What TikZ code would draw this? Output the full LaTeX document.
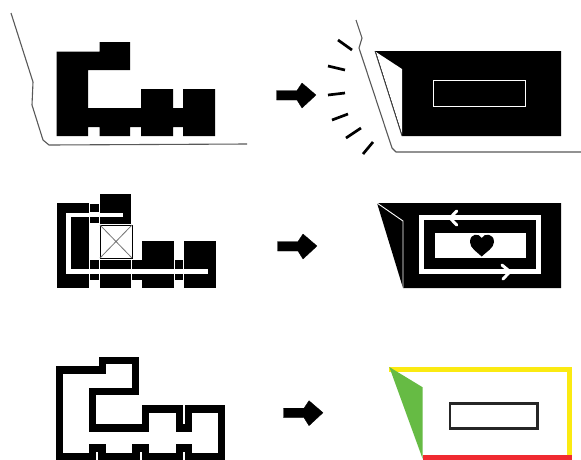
\documentclass[tikz,border=0pt]{standalone}
\usepackage{tikz}
\usepackage{xcolor}
\definecolor{leafgreen}{HTML}{66BB44}
\definecolor{signyellow}{HTML}{FBEA11}
\definecolor{signred}{HTML}{F02A30}
\begin{document}
\begin{tikzpicture}[x=1pt,y=-1pt,
  siteline/.style={draw=black!65,line width=1.1pt,line join=round},
  ray/.style={line width=2.7pt},
  corridor/.style={draw=white,line width=4.6pt},
  outline/.style={draw=black,line width=7.3pt,line join=miter},
  blockarrow/.style={fill=black,draw=black,line width=.3pt,line join=round},
  chevron/.style={draw=white,line width=3pt,line join=round,line cap=round}]
\clip (0,0) rectangle (581,459);
\fill[white] (0,0) rectangle (581,459);
% top row
\draw[siteline] (11,13) -- (33,82) -- (32,105) -- (43,140) -- (49,145) -- (247,144);
\fill (56.5,51.5) -- (99.5,51.5) -- (99.5,42) -- (130,42) -- (130,70) -- (88,70) -- (88,108) -- (141,108) -- (141,89) -- (173,89) -- (173,108) -- (183,108) -- (183,89) -- (215,89) -- (215,136) -- (183,136) -- (183,127) -- (173,127) -- (173,136) -- (141,136) -- (141,127) -- (130,127) -- (130,136) -- (99.5,136) -- (99.5,127) -- (88,127) -- (88,136) -- (56.5,136) -- cycle;
\foreach \ax/\ay/\bx/\by in {338/40/352/50,328/66/345/70,328/95/345/93,332/120/348/114,346/138/361/128,363/154/373/142}
  \draw[ray] (\ax,\ay) -- (\bx,\by);
\draw[siteline] (356,20) -- (362,38) -- (359,48) -- (392,148) -- (396,152) -- (581,152);
\fill (375,51) -- (561,51) -- (561,136) -- (402,136) -- cycle;
\fill[white] (376,52) -- (402,69) -- (402,134) -- cycle;
\draw[black!75,line width=.8pt] (375,51) -- (402,136);
\draw[white,line width=1pt] (433.5,80) rectangle (525.5,106);
% middle row
\foreach \xa/\ya/\xb/\yb in {57/203/89/288,100/194/131/224,100/274/131/288,100/260/131/269,142/241/174/288,184/241/216/288,90/204/99/212,90/217/99/223,90/260/99/269,90/274/99/280,132/260/142/269,132/274/142/280,175/260/183/269,175/274/183/280}
  \fill (\xa,\ya) rectangle (\xb,\yb);
\draw[corridor] (123,215) -- (68.3,215) -- (68.3,271.7) -- (208,271.7);
\draw[black,line width=1pt] (100,225) rectangle (132,258);
\draw[black!55,line width=.8pt] (100,225) -- (132,258) (100,258) -- (132,225);
\fill (377,203) -- (561,203) -- (561,288) -- (403,288) -- cycle;
\draw[white,line width=.9pt] (377,203) -- (403,221) -- (403,288);
\draw[corridor] (421.5,217.3) rectangle (538.5,271.7);
\fill[white] (435.3,233.3) rectangle (526,258.3);
\fill (481.7,238) .. controls (484,233) and (494,233) .. (494,242) .. controls (494,248) and (486,252) .. (481.7,256.5) .. controls (477,252) and (470,248) .. (470,242) .. controls (470,233) and (479,233) .. (481.7,238) -- cycle;
\draw[chevron] (456.7,211) -- (450,218) -- (456.7,225);
\draw[chevron] (502,265) -- (510,271.7) -- (503,279);
% bottom row
\draw[outline] (59.7,370) -- (102.7,370) -- (102.7,360.7) -- (135.7,360.7) -- (135.7,391.7) -- (92.3,391.7) -- (92.3,428) -- (145.7,428) -- (145.7,409) -- (179.3,409) -- (179.3,428) -- (188.3,428) -- (188.3,409) -- (221.7,409) -- (221.7,457) -- (188.3,457) -- (188.3,448) -- (179.3,448) -- (179.3,457) -- (145.7,457) -- (145.7,448) -- (136,448) -- (136,457) -- (102,457) -- (102,448) -- (92.3,448) -- (92.3,457) -- (59.7,457) -- cycle;
\draw[signred,line width=5pt] (422.7,457.3) -- (572,457.3);
\draw[signyellow,line width=5pt] (389.3,369.8) -- (569.7,369.8) -- (569.7,455);
\fill[leafgreen] (389.3,367) -- (422.7,387.3) -- (422.7,459) -- cycle;
\draw[black!85,line width=2.7pt] (450,403.3) rectangle (537.7,428.3);
% arrows
\foreach \dx/\dy in {0/0,1/151,7/317.7}
  \filldraw[blockarrow,shift={(\dx,\dy)}] (276.5,90.5) -- (297,90.5) -- (302,83) -- (316,95) -- (302,108) -- (297,100) -- (276.5,100) -- cycle;
\end{tikzpicture}
\end{document}
